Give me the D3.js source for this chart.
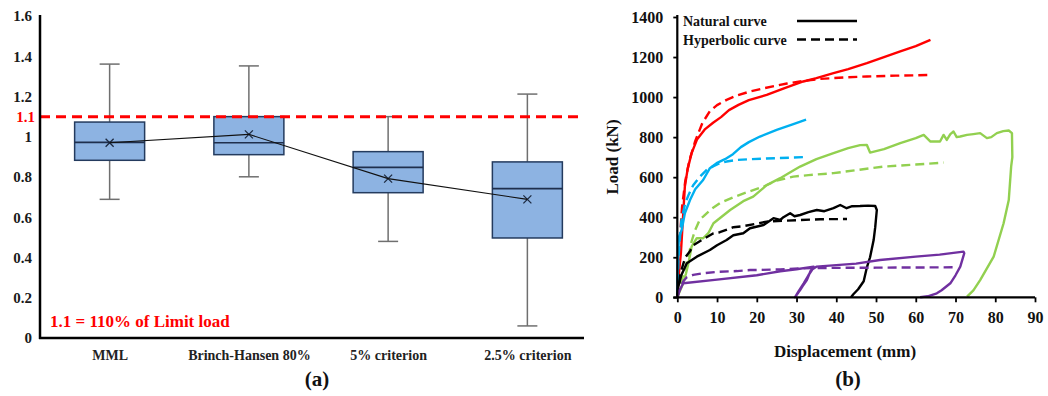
<!DOCTYPE html>
<html>
<head>
<meta charset="utf-8">
<script src="https://cdn.jsdelivr.net/npm/d3@7"></script>
<style>
  body { margin: 0; background: #fff; }
  svg text { font-family: "Liberation Serif", "Times New Roman", serif; font-weight: bold; }
</style>
</head>
<body>
<svg id="chart" width="1048" height="396"></svg>
<script>
// ---------- Panel (a): ratio of predicted to measured capacity ----------
const categories   = ["MML", "Brinch-Hansen 80%", "5% criterion", "2.5% criterion"];
const whiskerLow   = [0.689, 0.801, 0.480, 0.060];
const quartile1    = [0.883, 0.911, 0.722, 0.497];
const medians      = [0.972, 0.970, 0.848, 0.742];
const quartile3    = [1.073, 1.100, 0.926, 0.875];
const whiskerHigh  = [1.361, 1.352, 1.100, 1.212];
const means        = [0.970, 1.012, 0.792, 0.689];
const ratioTicks   = [0, 0.2, 0.4, 0.6, 0.8, 1, 1.2, 1.4, 1.6];
const limitRatio   = 1.1;
const limitNote    = "1.1 = 110% of Limit load";

// ---------- Panel (b): load–displacement curves [displacement mm, load kN] ----------
const dispTicks = [0, 10, 20, 30, 40, 50, 60, 70, 80, 90];
const loadTicks = [0, 200, 400, 600, 800, 1000, 1200, 1400];

const redNatural = [[0,0],[0.25,86],[0.9,220],[1.4,386],[1.9,553],[2.6,640],[3.6,720],[5,790],[7,840],[9,872],[11,900],[13,935],[15.4,961],[18,985],[22.5,1011],[27,1045],[31.7,1078],[35,1095],[39.3,1120],[43,1140],[47.7,1170],[52,1200],[56.1,1228],[60,1255],[63.7,1286]];
const redHyperbolic = [[0,0],[0.5,250],[1.2,450],[2,580],[3,680],[4.5,780],[6.3,870],[8.2,930],[10,960],[12.4,986],[15,1008],[18.3,1028],[22,1045],[27.6,1068],[31.5,1080],[35.9,1091],[42,1098],[47.7,1103],[55,1107],[62.9,1110]];

const blueNatural = [[0,0],[0.1,150],[0.4,300],[1.1,336],[1.9,420],[3.2,486],[4.5,540],[6.5,586],[8.2,645],[9.9,670],[12,690],[14,715],[16,750],[18,775],[20.8,803],[25,836],[29.2,865],[32.4,887]];
const blueHyperbolic = [[0,0],[0.3,200],[1,380],[2,470],[2.8,510],[4,560],[5.7,603],[7.4,636],[9.1,655],[10.7,670],[12.4,678],[15,686],[18.3,690],[25,695],[31.7,700]];

const greenNatural = [[0,0],[0.25,12],[1.5,70],[2.2,120],[2.8,170],[3.6,253],[4.9,295],[6.5,295],[7.8,320],[9.1,370],[11,400],[13.3,436],[16.6,480],[19.1,503],[22.5,560],[25.9,595],[28,620],[30.9,653],[35,690],[39.3,720],[43,745],[46,760],[47.7,761],[48.5,723],[52,740],[56.1,770],[60,795],[62,811],[63.7,778],[66.1,778],[67,811],[67.8,786],[68.7,815],[69.5,828],[70.3,800],[71.2,803],[72.9,811],[74.5,815],[76.2,820],[77.9,795],[79,800],[80.4,820],[82,830],[83.4,833],[84.2,820],[84.3,700],[84,653],[83.4,486],[82.1,370],[79.6,203],[76.2,86],[74.5,35],[72.9,3]];
const greenHyperbolic = [[0,0],[1,80],[2.8,203],[3.6,280],[4.5,336],[5.7,390],[6.5,403],[8.5,440],[10.7,470],[14.1,500],[18.3,530],[21.7,553],[25,583],[29.2,603],[33,610],[39.3,620],[45,635],[51.9,653],[60,663],[67,673]];

const blackNatural = [[0,0],[0.25,53],[1,110],[2.4,170],[4.9,203],[8.2,236],[10,260],[12.4,286],[14.1,310],[16.6,320],[18.3,345],[21.7,361],[24.2,395],[25.9,386],[26.7,400],[28.4,420],[29.5,405],[30.9,411],[33,425],[35.1,436],[37,430],[39.3,445],[41,461],[42.6,445],[44,455],[46,456],[48,458],[49.8,456],[50.2,436],[49.8,350],[49.4,286],[48.5,200],[47.7,150],[46.9,80],[45.5,40],[44.3,15],[43.7,0]];
const blackHyperbolic = [[0,0],[0.8,120],[2,200],[3.2,230],[4,260],[6.5,290],[9.1,320],[10.7,325],[14.1,350],[16.6,355],[22.5,378],[30.9,386],[36,390],[42.7,391]];

const purpleNatural = [[0,0],[0.5,30],[1.1,55],[1.5,70],[10,88],[20,110],[25.9,130],[30,140],[34.3,153],[33.5,130],[32.6,86],[31.5,55],[30.9,36],[29.6,0],[30.5,30],[31.8,70],[33,110],[34,140],[35,153],[45,168],[51,186],[60,203],[66,213],[72,228],[72.2,220],[71.2,153],[70,110],[68.7,70],[66.5,35],[65.3,20],[63,5],[61.1,0]];
const purpleHyperbolic = [[0,0],[0.8,50],[1.5,80],[2.4,100],[4,112],[6.5,120],[10,127],[15,131],[18.3,136],[25.9,139],[30.9,145],[40,147],[50,148],[60,149],[70.4,150]];

const legendLabels = ["Natural curve", "Hyperbolic curve"];

const svg = d3.select("#chart");

// ================= Panel (a) =================
const ya = d3.scaleLinear().domain([0, 1.6]).range([338, 16]);
const xa = d3.scalePoint().domain(categories).range([40, 597]).padding(0.5);
const plotRightA = 584;
const boxW = 70, capW = 20;

const gA = svg.append("g");

// y axis labels
const yAxisA = d3.axisLeft(ya).tickValues(ratioTicks).tickSize(0).tickPadding(8)
  .tickFormat(d => String(+d.toFixed(1)));
gA.append("g").attr("transform", "translate(40,0)").call(yAxisA)
  .call(g => g.select(".domain").remove())
  .selectAll("text").attr("font-size", 15).attr("fill", "#1a1a1a")
  .style("font-family", "'Liberation Serif', serif").style("font-weight", "bold");

// x axis labels
const xAxisA = d3.axisBottom(xa).tickSize(0).tickPadding(12);
gA.append("g").attr("transform", "translate(0,338)").call(xAxisA)
  .call(g => g.select(".domain").remove())
  .selectAll("text").attr("font-size", 14).attr("fill", "#222")
  .style("font-family", "'Liberation Serif', serif").style("font-weight", "bold");

// whiskers
const boxData = categories.map((c, i) => ({
  c, lo: whiskerLow[i], q1: quartile1[i], med: medians[i], q3: quartile3[i], hi: whiskerHigh[i], mean: means[i]
}));
const whiskColor = "#6f6f6f";
const boxes = gA.append("g").selectAll("g").data(boxData).join("g");
boxes.append("line")
  .attr("x1", d => xa(d.c)).attr("x2", d => xa(d.c))
  .attr("y1", d => ya(d.hi)).attr("y2", d => ya(d.q3))
  .attr("stroke", whiskColor).attr("stroke-width", 1.5);
boxes.append("line")
  .attr("x1", d => xa(d.c)).attr("x2", d => xa(d.c))
  .attr("y1", d => ya(d.q1)).attr("y2", d => ya(d.lo))
  .attr("stroke", whiskColor).attr("stroke-width", 1.5);
boxes.append("line")
  .attr("x1", d => xa(d.c) - capW / 2).attr("x2", d => xa(d.c) + capW / 2)
  .attr("y1", d => ya(d.hi)).attr("y2", d => ya(d.hi))
  .attr("stroke", whiskColor).attr("stroke-width", 1.5);
boxes.append("line")
  .attr("x1", d => xa(d.c) - capW / 2).attr("x2", d => xa(d.c) + capW / 2)
  .attr("y1", d => ya(d.lo)).attr("y2", d => ya(d.lo))
  .attr("stroke", whiskColor).attr("stroke-width", 1.5);
// interquartile boxes
boxes.append("rect")
  .attr("x", d => xa(d.c) - boxW / 2).attr("width", boxW)
  .attr("y", d => ya(d.q3)).attr("height", d => ya(d.q1) - ya(d.q3))
  .attr("fill", "#8db3e2").attr("stroke", "#243b5e").attr("stroke-width", 1.5);
// medians
boxes.append("line")
  .attr("x1", d => xa(d.c) - boxW / 2).attr("x2", d => xa(d.c) + boxW / 2)
  .attr("y1", d => ya(d.med)).attr("y2", d => ya(d.med))
  .attr("stroke", "#1f2f4d").attr("stroke-width", 1.6);

// mean line joining the category averages
gA.append("path")
  .datum(boxData)
  .attr("d", d3.line().x(d => xa(d.c)).y(d => ya(d.mean)).curve(d3.curveLinear))
  .attr("fill", "none").attr("stroke", "#111").attr("stroke-width", 1.1);
// mean markers
const mk = 4;
boxes.append("path")
  .attr("d", d => {
    const x = xa(d.c), y = ya(d.mean);
    return `M${x - mk},${y - mk}L${x + mk},${y + mk}M${x - mk},${y + mk}L${x + mk},${y - mk}`;
  })
  .attr("stroke", "#1c2940").attr("stroke-width", 1.3).attr("fill", "none");

// limit line
gA.append("line")
  .attr("x1", 40).attr("x2", plotRightA)
  .attr("y1", ya(limitRatio)).attr("y2", ya(limitRatio))
  .attr("stroke", "#ff0000").attr("stroke-width", 3).attr("stroke-dasharray", "10,6");
gA.append("text")
  .attr("x", 35).attr("y", ya(limitRatio)).attr("dy", "0.35em")
  .attr("text-anchor", "end").attr("font-size", 15).attr("fill", "#ff0000")
  .text(String(limitRatio));

// axes lines
gA.append("line").attr("x1", 40).attr("x2", 40).attr("y1", 15).attr("y2", 339)
  .attr("stroke", "#000").attr("stroke-width", 2.5);
gA.append("line").attr("x1", 39).attr("x2", plotRightA).attr("y1", 338).attr("y2", 338)
  .attr("stroke", "#000").attr("stroke-width", 2.5);

gA.append("text").attr("x", 50).attr("y", 326.5).attr("font-size", 17).attr("fill", "#ff0000")
  .text(limitNote);
gA.append("text").attr("x", 317).attr("y", 386).attr("text-anchor", "middle")
  .attr("font-size", 21).attr("fill", "#111").text("(a)");

// ================= Panel (b) =================
const xb = d3.scaleLinear().domain([0, 90]).range([677.3, 1035]);
const yb = d3.scaleLinear().domain([0, 1400]).range([297.3, 17]);
const gB = svg.append("g");

const series = [
  { pts: redNatural,       color: "#ff0000", dashed: false },
  { pts: redHyperbolic,    color: "#ff0000", dashed: true  },
  { pts: blueNatural,      color: "#00b0f0", dashed: false },
  { pts: blueHyperbolic,   color: "#00b0f0", dashed: true  },
  { pts: greenNatural,     color: "#92d050", dashed: false },
  { pts: greenHyperbolic,  color: "#92d050", dashed: true  },
  { pts: blackNatural,     color: "#000000", dashed: false },
  { pts: blackHyperbolic,  color: "#000000", dashed: true  },
  { pts: purpleNatural,    color: "#7030a0", dashed: false },
  { pts: purpleHyperbolic, color: "#7030a0", dashed: true  }
];
const lineB = d3.line().x(d => xb(d[0])).y(d => yb(d[1])).curve(d3.curveLinear);
gB.append("g").selectAll("path").data(series).join("path")
  .attr("d", d => lineB(d.pts))
  .attr("fill", "none")
  .attr("stroke", d => d.color)
  .attr("stroke-width", 2.4)
  .attr("stroke-linejoin", "round")
  .attr("stroke-linecap", "butt")
  .attr("stroke-dasharray", d => d.dashed ? "9,5" : null);

// axes
const yAxisB = d3.axisLeft(yb).tickValues(loadTicks).tickSize(4).tickPadding(10)
  .tickFormat(d3.format("d"));
gB.append("g").attr("transform", `translate(${xb(0)},0)`).call(yAxisB)
  .call(g => g.select(".domain").attr("stroke-width", 2.2).attr("d", `M-4,${yb(0)}H0V15`))
  .call(g => g.selectAll(".tick line").attr("stroke-width", 1.8))
  .selectAll("text").attr("font-size", 16).attr("fill", "#111")
  .style("font-family", "'Liberation Serif', serif").style("font-weight", "bold");

const xAxisB = d3.axisBottom(xb).tickValues(dispTicks).tickSize(5).tickPadding(9)
  .tickFormat(d3.format("d"));
gB.append("g").attr("transform", `translate(0,${yb(0)})`).call(xAxisB)
  .call(g => g.select(".domain").attr("stroke-width", 2.2).attr("d", `M${xb(0)},0H${xb(90)}`))
  .call(g => g.selectAll(".tick line").attr("stroke-width", 1.8))
  .selectAll("text").attr("font-size", 16).attr("fill", "#111")
  .style("font-family", "'Liberation Serif', serif").style("font-weight", "bold");

gB.append("text").attr("transform", "translate(618,157) rotate(-90)")
  .attr("text-anchor", "middle").attr("font-size", 17).attr("fill", "#111").text("Load (kN)");
gB.append("text").attr("x", 845).attr("y", 357).attr("text-anchor", "middle")
  .attr("font-size", 17).attr("fill", "#111").text("Displacement (mm)");
gB.append("text").attr("x", 848).attr("y", 386).attr("text-anchor", "middle")
  .attr("font-size", 21).attr("fill", "#111").text("(b)");

// legend
const legend = gB.append("g").selectAll("g").data(legendLabels).join("g")
  .attr("transform", (d, i) => `translate(683,${21 + i * 18.5})`);
legend.append("text").attr("y", 5).attr("font-size", 14).attr("fill", "#111").text(d => d);
legend.append("line").attr("x1", 114).attr("x2", 174).attr("y1", 0).attr("y2", 0)
  .attr("stroke", "#000").attr("stroke-width", 2.4)
  .attr("stroke-dasharray", (d, i) => i === 1 ? "9,5" : null);
</script>
</body>
</html>
